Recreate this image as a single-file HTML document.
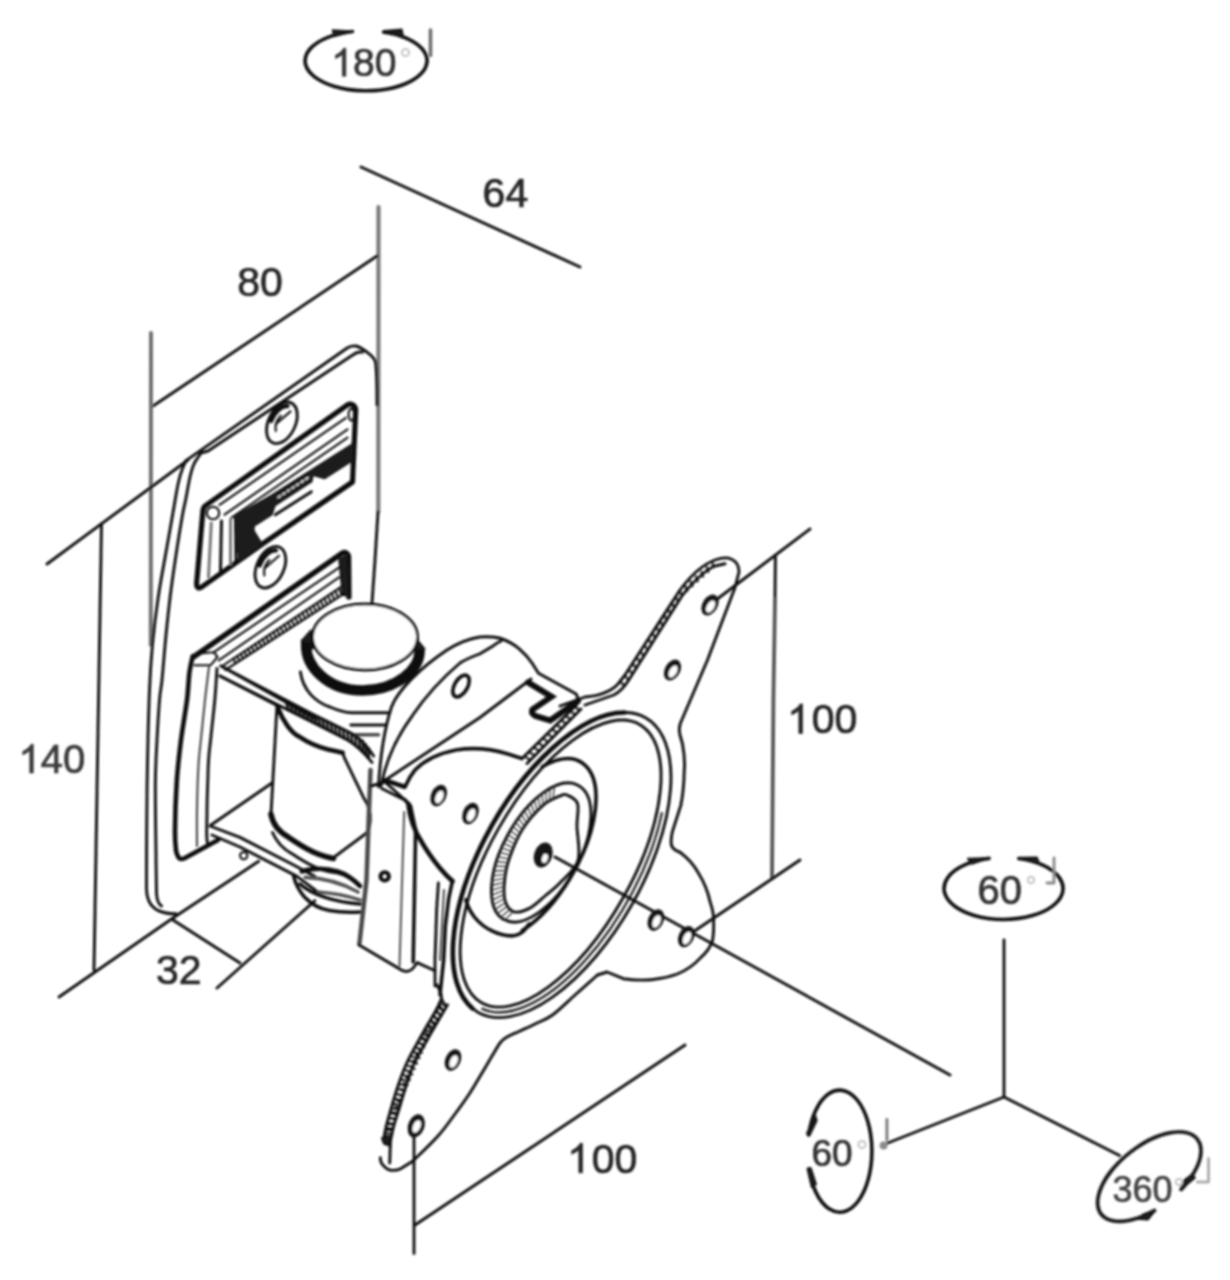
<!DOCTYPE html>
<html>
<head>
<meta charset="utf-8">
<title>Monitor wall mount - dimensions</title>
<style>
html,body{margin:0;padding:0;background:#fff;}
body{width:1230px;height:1280px;overflow:hidden;font-family:"Liberation Sans",sans-serif;}
svg{display:block;}
svg text{font-family:"Liberation Sans",sans-serif;fill:#262626;stroke:#262626;stroke-width:0.7;}
.ln{fill:none;stroke:#101010;stroke-width:2.9;stroke-linecap:round;stroke-linejoin:round;}
.th{stroke-width:4.6;}
.md{stroke-width:3.6;}
.tn{stroke-width:2.1;}
.gy{stroke:#4c4c4c;}
.bk{fill:#1a1a1a;stroke:#1a1a1a;stroke-width:1.5;stroke-linejoin:round;}
.wf{fill:#fff;}
</style>
</head>
<body>
<svg width="1230" height="1280" viewBox="0 0 1230 1280">
<defs>
<filter id="soft" x="-2%" y="-2%" width="104%" height="104%"><feGaussianBlur stdDeviation="1.1"/></filter>
</defs>
<rect width="1230" height="1280" fill="#fff"/>
<g filter="url(#soft)">

<!-- ===== DIMENSION LINES ===== -->
<g class="ln" id="dims">
<path d="M361 167 L580 267"/>
<path d="M378.5 207 L378.3 512" style="stroke:#7a7a7a;stroke-width:4.2"/>
<path d="M151.5 407 L377 256"/>
<path d="M151 333 L150.8 645" style="stroke:#707070;stroke-width:4"/>
<path d="M47 564 L188 460"/>
<path d="M101.5 524 L94 970"/>
<path d="M59 997 L173 918"/>
<path d="M173 920 L240 963"/>
<path d="M217 988 L314.8 900.8"/>
<path d="M775.4 557 L775 600" /><path d="M775 600 L773.4 700 L772 878" style="stroke:#555;stroke-width:3.8"/>
<path d="M712 603 L810 529"/>
<path d="M690 934 L800 860"/>
<path d="M555 857 L950 1075"/>
<path d="M414 1130 L414 1253.5"/>
<path d="M415 1225 L685 1045"/>
</g>

<!-- ===== TEXT ===== -->
<g id="labels" font-size="41">
<text id="t64" x="482.6" y="206.7">64</text>
<text id="t80" x="237.2" y="295.6">80</text>
<g id="t140"><path d="M763 0 L583 0 L583 1147 Q518 1085 412.5 1023 Q307 961 223 930 L223 1104 Q374 1175 487 1276 Q600 1377 647 1472 L763 1472 Z" transform="translate(18.40 773.00) scale(0.01953 -0.01953)" fill="#3a3a3a" stroke="#3a3a3a" stroke-width="35.8" stroke-linejoin="round"/><text x="40.65" y="773.0" font-size="40" style="fill:#3a3a3a;stroke:#3a3a3a">40</text></g>
<text id="t32" x="156" y="984">32</text>
<g id="t100r"><path d="M763 0 L583 0 L583 1147 Q518 1085 412.5 1023 Q307 961 223 930 L223 1104 Q374 1175 487 1276 Q600 1377 647 1472 L763 1472 Z" transform="translate(787.20 733.40) scale(0.02002 -0.02002)" fill="#262626" stroke="#262626" stroke-width="35.0" stroke-linejoin="round"/><text x="811.80" y="733.4" font-size="41">00</text></g>
<g id="t100b"><path d="M763 0 L583 0 L583 1147 Q518 1085 412.5 1023 Q307 961 223 930 L223 1104 Q374 1175 487 1276 Q600 1377 647 1472 L763 1472 Z" transform="translate(567.20 1172.80) scale(0.02002 -0.02002)" fill="#262626" stroke="#262626" stroke-width="35.0" stroke-linejoin="round"/><text x="591.80" y="1172.8" font-size="41">00</text></g>
</g>

<!-- ===== ROTATION AXES ===== -->
<g class="ln" id="axes">
<path d="M1004 940 L1004 1097 L884 1144.5"/>
<path d="M1004 1097 L1119.5 1155.5"/>
</g>


<!-- rotation indicator: 180 deg (top) -->
<g id="rot180">
<path class="ln md" d="M383.6 32 A61 30 0 1 1 352.4 31.5"/>
<path class="bk" d="M332.5 30 L353.5 31.2 L334 36.5 Z"/>
<path class="bk" d="M383.6 30.8 L401.8 29.3 L403.5 37 Z"/>
<path class="ln md" style="stroke:#6e6e6e" d="M430.5 30 L430.5 55.5"/>
<g id="t180"><path d="M763 0 L583 0 L583 1147 Q518 1085 412.5 1023 Q307 961 223 930 L223 1104 Q374 1175 487 1276 Q600 1377 647 1472 L763 1472 Z" transform="translate(331.30 76.20) scale(0.01904 -0.01904)" fill="#333" stroke="#333" stroke-width="36.8" stroke-linejoin="round"/><text x="352.99" y="76.2" font-size="39" style="fill:#333;stroke:#333">80</text></g>
<circle cx="405.5" cy="52.5" r="3.6" fill="none" stroke="#c4c4c4" stroke-width="2"/>
</g>
<!-- rotation indicator: 60 deg (top axis) -->
<g id="rot60a">
<path class="ln md" d="M1018.8 858.5 A59.5 31 0 1 1 989 858.4"/>
<path class="bk" d="M967.5 858.6 L990 857.8 L972 864 Z"/>
<path class="bk" d="M1018.8 857.5 L1037 857.2 L1040 864.5 Z"/>
<path class="ln" style="stroke:#8a8a8a" d="M1054 858 L1054 883 L1047 883"/>
<text id="t60t" x="977.6" y="903.5" font-size="40" style="fill:#333;stroke:#333">60</text>
<circle cx="1031" cy="880" r="3.2" fill="none" stroke="#c4c4c4" stroke-width="2"/>
</g>
<!-- rotation indicator: 60 deg (left axis) -->
<g id="rot60b">
<path class="ln md" d="M808.65 1135 A32.2 61 0 1 1 808.87 1168.8"/>
<path class="bk" d="M815.4 1115.5 L817 1120.5 L809.8 1135.4 L806.6 1133.7 Z"/>
<path class="bk" d="M807.3 1168.8 L811 1168 L816.3 1184.4 L811.5 1187.2 Z"/>
<path class="ln" style="stroke:#7a7a7a" d="M886.9 1119.5 L886.9 1140"/>
<circle cx="883.6" cy="1145.6" r="4" fill="#8a8a8a"/>
<text id="t60l" x="811.4" y="1165.6" font-size="37" style="fill:#333;stroke:#333">60</text>
<circle cx="862" cy="1144.5" r="3.6" fill="none" stroke="#c4c4c4" stroke-width="2"/>
</g>
<!-- rotation indicator: 360 deg (right axis) -->
<g id="rot360">
<g transform="translate(1149.3 1176.7) rotate(-38)">
<path class="ln md" d="M17.4 29.7 A61 31 0 1 0 -16.7 29.8"/>
</g>
<path class="bk" d="M1192.2 1174.2 L1195.2 1178 L1180 1190 L1183.4 1180.6 Z"/>
<path class="bk" d="M1155.6 1210.2 L1148 1219.8 L1138.5 1219.2 L1143 1214.2 Z"/>
<path class="ln" style="stroke:#adadad" d="M1208.5 1158.5 L1208.5 1182 L1197.4 1182"/>
<text id="t360" x="1112.4" y="1202" font-size="36" style="fill:#444;stroke:#444">360</text>
<circle cx="1179" cy="1182" r="3.2" fill="none" stroke="#c5c5c5" stroke-width="2"/>
</g>


<!-- ===== WALL PLATE ===== -->
<g id="plate" class="ln">
<!-- outer outline: top edge, corner, right edge -->
<path d="M186 460.6 L346.8 348.3 C350 346 353 345.5 356 346 C361 347.5 365 350.5 368.3 353.2 C372 356 374.5 358.5 375.5 362 C377 372 377 390 377 405"/><path d="M378 512 L375 560 L372 603"/>
<!-- inner top edge -->
<path d="M201 453 L208 451 L352.7 355 C356 352.5 359 351.5 362.4 352.2"/>
<!-- left edge outer -->
<path d="M186 460.6 C181 470 178 482 176 495 C171 525 166 552 161 580 C155 615 151 650 149.5 690 C147.5 740 146.5 800 146.5 888 C146.5 901 152 909 162 912 C167 913.5 172 914 176 913.7"/>
<!-- left edge inner -->
<path d="M201.0 453.0 C199.8 454.8 195.8 460.0 194.0 464.0 C192.2 468.0 191.3 471.3 190.0 477.0 C188.7 482.7 187.2 491.7 186.0 498.0 C184.8 504.3 184.2 505.5 182.5 515.0 C180.8 524.5 177.9 542.5 176.0 555.0 C174.1 567.5 172.7 576.7 171.0 590.0 C169.3 603.3 167.5 620.0 166.0 635.0 C164.5 650.0 163.1 669.2 162.0 680.0 C160.9 690.8 160.3 690.0 159.5 700.0 C158.7 710.0 157.7 726.5 157.0 740.0 C156.3 753.5 155.6 764.3 155.4 781.0 C155.2 797.7 155.6 821.3 155.8 840.0 C156.0 858.7 156.4 884.2 156.5 893.0 C156.8 900 158.5 904 161.5 906"/>
<!-- bottom edge -->
<path d="M173 918 L258.7 861.2"/>
<!-- screws -->
<g transform="translate(281.9 422.8) rotate(25)"><ellipse rx="13.5" ry="22"/><path style="stroke-width:4.2" d="M-10.5 3 A10.5 18.5 0 0 1 -2 -17.5"/><path class="tn" d="M-4 -6 C-6 0 -5 6 -2 10 M3 -14 L-5 4"/></g>
<g transform="translate(270.4 567.2) rotate(25)"><ellipse rx="13.5" ry="22"/><path style="stroke-width:4.2" d="M-10.5 3 A10.5 18.5 0 0 1 -2 -17.5"/><path class="tn" d="M-4 -6 C-6 0 -5 6 -2 10 M3 -14 L-5 4"/></g>
</g>

<!-- ===== UPPER SLOT ===== -->
<g id="slot" class="ln">
<path style="stroke-width:5.2" d="M206.4 505 L347.5 404.8 C351 403 355 405 355.7 409.7 L352.5 482 L262.2 544.2 L201 587.5 C198 589 196.4 587 196.6 583.6 L203 510 C203.5 507 204.5 506 206.4 505 Z"/>
<path class="tn" d="M219.5 504.9 L345.9 417.9"/>
<path class="tn" d="M224.5 514.7 L347.5 429.4"/>
<path class="tn" d="M231 518 L347.5 437.6"/>
<ellipse class="tn" cx="351.4" cy="414.6" rx="2.8" ry="6"/>
<circle class="tn" cx="213" cy="513" r="6.2"/>
<path style="stroke:#777;stroke-width:3" d="M211.3 523 L208.5 577 M230.5 519.6 L230.5 564"/>
<path style="stroke-width:3" d="M221.5 521 L220.5 571 M235.5 518 L236 560"/>
<path class="bk" d="M234.3 516.4 L272 495 L352.5 444 L352.5 460.6 L324.5 478.6 L313 475.3 L311.8 481.5 L275 505.5 L272 514.7 L254 526.2 L254 531 L262.2 544.2 L239.2 560.7 L236 537.7 Z"/>
<path d="M275.3 514.7 L311.4 491.7"/>
<path class="tn" style="stroke:#fff;stroke-dasharray:3 2.5;stroke-width:1.4" d="M278 497.5 L309 477"/>
</g>

<!-- ===== U BRACKET (on wall plate) ===== -->
<g id="bracket" class="ln">
<!-- top bar -->
<path style="stroke-width:5.4" d="M193.5 657 L342.4 553 C345 551.5 347.5 553 348.5 556.5 L348.9 597"/>
<path class="bk" d="M339 559.5 L347 555 L348 596 L342.4 595.3 Z"/>
<path class="tn" d="M213.9 652.2 L339 567.6"/>
<path class="tn" d="M218.8 660.3 L339 577.4"/>
<path class="tn" d="M223.7 665.2 L340.7 587.2"/>
<path class="tn" d="M225.3 670 L344 593.7"/>
<path class="tn" d="M233.8 658.5 L235.3 663.3 M237.4 656.1 L239.0 661.0 M241.1 653.7 L242.7 658.6 M244.7 651.2 L246.3 656.3 M248.3 648.8 L250.0 653.9 M251.9 646.4 L253.7 651.6 M255.6 644.0 L257.3 649.2 M259.2 641.6 L261.0 646.9 M262.8 639.2 L264.7 644.5 M266.4 636.7 L268.3 642.2 M270.0 634.3 L272.0 639.8 M273.7 631.9 L275.7 637.5 M277.3 629.5 L279.3 635.1 M280.9 627.1 L283.0 632.8 M284.5 624.7 L286.7 630.4 M288.2 622.2 L290.3 628.1 M291.8 619.8 L294.0 625.7 M295.4 617.4 L297.7 623.4 M299.0 615.0 L301.3 621.0 M302.7 612.6 L305.0 618.7 M306.3 610.2 L308.7 616.3 M309.9 607.7 L312.3 614.0 M313.5 605.3 L316.0 611.6 M317.1 602.9 L319.7 609.3 M320.8 600.5 L323.3 606.9 M324.4 598.1 L327.0 604.6 M328.0 595.7 L330.7 602.2 M331.6 593.2 L334.3 599.9 M335.3 590.8 L338.0 597.5 M338.9 588.4 L341.7 595.2"/>
<!-- corner top face -->
<path class="tn" d="M196 653.8 L213.9 652.2 L217.5 657 L210.7 665.2 L194.4 665.2"/>
<!-- left bar -->
<path class="th" d="M192.8 656.0 C192.2 658.7 190.5 664.7 189.5 672.0 C188.5 679.3 188.4 688.7 187.0 700.0 C185.6 711.3 182.7 726.5 181.0 740.0 C179.3 753.5 177.8 766.0 176.8 781.0 C175.8 796.0 175.1 818.5 175.0 830.0 C174.9 841.5 175.5 845.6 176.0 850.0 C176.5 854.4 177.7 855.4 178.0 856.5 C179.5 859.5 182 859.5 185 858 L218 840"/>
<path class="tn" style="stroke:#444" d="M209.0 666.8 C208.3 672.3 206.3 687.8 205.0 700.0 C203.7 712.2 202.0 729.2 200.9 740.0 C199.8 750.8 199.2 753.3 198.5 765.0 C197.8 776.7 197.2 796.5 197.0 810.0 C196.8 823.5 197.0 840.0 197.0 846.0"/>
<path d="M217.0 668.5 C216.6 673.8 215.9 688.1 214.8 700.0 C213.7 711.9 211.7 729.2 210.6 740.0 C209.5 750.8 209.0 750.0 208.3 765.0 C207.7 780.0 206.8 817.0 206.7 830.0 C206.6 843.0 207.4 840.8 207.5 843.0"/>

<!-- upper arm -->
<path d="M221 666 L316 719"/>
<path d="M220 676 L278 706"/>
<!-- lower arm -->
<path d="M211 825 L272 783"/>
<path d="M210 826 L240 837.4 L293.7 865 L314.8 876.4"/>
<path d="M212 835 L240 847 L297 876.4 L316.4 891"/>
<circle class="tn" cx="243.7" cy="855.6" r="3.6"/>
</g>

<!-- ===== KNOB + PIVOT CYLINDER ===== -->
<g id="knob" class="ln">
<ellipse class="wf" cx="365" cy="637" rx="52.5" ry="33"/>
<!-- cap side + thick groove ring -->
<path d="M312.5 638 L312.5 648 M417.5 638 L417.5 648"/>
<path d="M306.5 640 C303 668 330 690.6 362.5 690.6 C395 690.6 421.5 670 419.5 648" style="stroke-width:10.5;stroke-linecap:butt"/>
<path class="bk" d="M301.3 641 L311 630 L312 642 Z"/>
<path class="bk" d="M414.5 648 L417.5 640 L424.8 649 Z"/>
<!-- lower body -->
<path d="M300.4 672 C303 690 315 702 330 707 C338 710.5 345 712.5 352 712.8 L388 712.8"/>
<path d="M350.8 725 L385 725"/>
<path class="md gy" d="M354 734.8 L378.5 734.8"/>
<!-- upper arm A/B + hatch -->
<path d="M221 666 L311.8 713.7 L350.8 733 C360 738 368 747 373.6 756"/>
<path d="M220 676 L315 723.4 L347.6 740 C358 746 366 755 372 762.4"/>
<path style="stroke-width:2.6" d="M285.1 699.7 L288.8 710.4 M289.2 701.8 L292.8 712.4 M293.3 704.0 L296.8 714.3 M297.4 706.1 L300.8 716.3 M301.5 708.3 L304.8 718.3 M305.6 710.4 L308.8 720.3 M309.7 712.6 L312.8 722.3 M313.8 714.7 L316.8 724.3 M318.0 716.8 L320.7 726.3 M322.1 718.8 L324.7 728.4 M326.3 720.9 L328.7 730.4 M330.5 722.9 L332.7 732.4 M334.6 725.0 L336.7 734.4 M338.8 727.1 L340.6 736.5 M342.9 729.1 L344.6 738.5 M347.1 731.2 L348.6 740.6 M351.2 733.3 L352.3 743.0 M355.2 735.7 L356.1 745.5 M359.1 738.2 L359.8 747.9 M362.8 740.9 L362.8 751.2 M365.7 744.6 L365.8 754.5 M368.6 748.2 L368.8 757.8"/>
<!-- cylinder -->
<path class="th" d="M277.6 707 C283 722 292 733 298.8 736.4 C310 744 322 748 328 749.4 C335 751 340 752 342.7 752.7"/>
<path d="M342.7 752.7 L344.3 757.6 L363.8 798.2 C369 805 371 815 370.3 820 C370 826 368.5 830 366 833.5"/>
<path d="M276.8 708.8 L272.8 782 L270.9 816"/>
<path style="stroke-width:5.5" d="M270.9 814 C273 826 281 833 288.8 837.4 C297 843 306 848.5 313.2 852 C320 855 327 857.5 333.5 858.5"/>
<path d="M335 856.5 L366 833.5"/>
<path d="M272.5 832.5 C277 843 285 850 292 853.7 C300 859 310 865 318 868.3 C325 871 332 872.5 337.6 873 C346 875 354 880 360 886"/>
<!-- washer / nut -->
<path class="md" d="M293.7 876.4 C296 886 300 892 305 897.6 C312 905 320 909 329.4 910.6 C340 912.5 351 912.5 360 912"/>
<path class="th" d="M301.8 871.5 C312 868 326 868 337.6 871.5 C346 874 354 880 360 886"/>
<path class="md" style="stroke:#555" d="M305 877.4 C322 878 342 883 358 892"/>
<path class="md" style="stroke:#555" d="M318 892 C332 893 348 896 360 900"/>
<path class="md" d="M300 884 C312 895 335 902 360 904"/>
</g>


<!-- ===== TILT BRACKET ===== -->
<g id="tilt" class="ln">
<!-- outer arc -->
<path d="M378.5 786.8 C380 760 384 730 391.5 707 C398 690 420 668 447 650 C458 643 470 638.5 480 637 C487 636.5 494 637 499.5 638 C507 640.5 514 644.5 519 648.6 C524 653 529 658.5 532 663 L538.5 673.3 L576.2 694 L578.8 700.6"/>
<!-- inner arc -->
<path d="M381 786 C386 760 398 735 412.6 715.3 C425 697 440 680 460 663 C467 658.5 474 656 480 653.8 L493 646 C496 643.5 498.5 642 501 641"/>
<!-- flat edge -->
<path d="M385 780.3 L480 717.5 L531 679"/>
<!-- notch -->
<path style="stroke-width:6;stroke-linejoin:miter" d="M528 682.4 L551.5 696.7 L532.5 709.5 C531 713 533 715 536 716.2 L550.2 720.5 L578 701"/>
<g transform="translate(461 686) rotate(30)"><ellipse rx="6.5" ry="12" style="stroke-width:3.6"/></g>
</g>

<!-- ===== HINGE BLOCK ===== -->
<g id="hinge" class="ln">
<path style="stroke:#4a4a4a;stroke-width:4.5" d="M370.5 770 L366.5 880 L359.5 943"/>
<path d="M358.7 944.7 L402.6 970.7 C406 972 410 971 412.4 969 L417.2 962.6 L435 970.7"/>
<path class="tn" style="stroke:#555" d="M404.2 812 L399.5 966"/>
<path class="md" d="M405 800 L410.5 806 L415.6 830 L413.2 962"/>
<path d="M371 786 L385 782 L405 800"/>
<circle cx="384.7" cy="876.4" r="4.2" style="stroke-width:4"/>
<path d="M381.7 788.5 L404.5 799.8"/>
<path class="th" d="M385 780.3 L404.5 786.8"/>
</g>

<!-- ===== VESA PLATE ===== -->
<g id="vesa" class="ln">
<!-- left lobe -->
<path class="md" d="M405.5 786 C408 780 410 776 415 770 C425 760 440 753 456 750 C475 747 495 750 508 754 L522 758.5"/>
<path d="M522 758.5 L577 704.5"/>
<path d="M527 763.5 L581 709"/>
<path class="th" d="M408.3 803.8 C410 820 415 832 422 842.6 C430 856 440 870 452.6 881.3"/>
<g transform="translate(438.7 795.5) rotate(25)"><ellipse rx="7.6" ry="11.2" fill="#141414" stroke="none"/><ellipse cx="1.2" cy="1" rx="3.6" ry="6.6" fill="#fff" stroke="none"/></g>
<g transform="translate(470.5 813.5) rotate(25)"><ellipse rx="7.6" ry="11.2" fill="#141414" stroke="none"/><ellipse cx="1.2" cy="1" rx="3.6" ry="6.6" fill="#fff" stroke="none"/></g>
<!-- left edge strip -->
<path d="M438.4 883 L436.7 908.7 L435 960 L435 986"/>
<path class="md" d="M452 883 L448.7 898.4 L445.3 926 L443.6 960.3 L440 994.6"/><path class="tn gy" d="M444 890 L440 960"/>
<!-- big ring (double) -->
<path d="M624.6 712.5 A169.4 80.4 -60.4 0 0 472.5 1008.4" style="stroke-width:4.6"/>
<g transform="translate(561.9 865.1) rotate(-60.4)"><ellipse rx="169.4" ry="80.4"/></g>
<path class="tn" d="M661.9 813.0 A164.6 75.8 -60.4 0 1 482.3 1008.7"/>
<g transform="translate(560.6 863.6) rotate(-60.4)"><ellipse rx="160" ry="71.3"/></g>
<!-- boss -->
<path class="md" d="M542.2 766.7 A101.0 48.5 -60.4 0 1 522.3 930.6"/>
<path class="md" d="M465.8 899.8 C468 908 472 914 474.4 917 C480 924 486 928 491.5 930.7 C498 934 506 936 512 935.9 C517 935.5 521 933.5 524 930.7 L529 924"/>
<!-- inner double ring -->
<g transform="translate(541.2 852.5) rotate(-61)"><ellipse rx="76.7" ry="37.8"/></g>
<path d="M567.0 795.0 C569.9 796.3 575.8 798.4 577.5 803.6 C579.2 808.8 576.9 816.5 577.0 826.0 C577.1 835.5 580.8 850.9 578.0 860.3 C575.2 869.7 565.8 876.6 560.3 882.6 C554.8 888.6 550.2 891.7 545.0 896.0 C539.8 900.3 534.5 905.8 529.3 908.4 C524.1 911.0 517.9 912.9 513.9 911.8 C509.9 910.6 506.9 906.4 505.3 901.5 C503.7 896.6 503.8 889.5 504.4 882.6 C505.0 875.7 505.7 869.2 508.7 860.3 C511.7 851.4 516.8 838.5 522.5 829.3 C528.2 820.1 536.7 810.9 543.0 805.3 C549.3 799.7 556.3 797.5 560.3 795.8 C564.3 794.1 564.1 793.7 567.0 795.0 Z"/>
<path style="stroke-width:1.3;stroke:#333" d="M504.8 919.9 L514.4 910.7 M500.8 917.2 L511.1 908.5 M497.5 913.6 L508.4 905.5 M495.1 909.4 L506.4 902.0 M493.3 904.8 L505.1 898.2 M492.2 900.1 L504.3 894.3 M491.6 895.2 L503.9 890.3 M491.5 890.3 L503.7 886.3 M491.6 885.5 L503.9 882.3 M492.1 880.6 L504.3 878.3 M492.9 875.8 L504.9 874.4 M493.8 871.0 L505.6 870.5 M495.0 866.2 L506.5 866.5 M496.3 861.5 L507.6 862.7 M497.9 856.9 L508.8 858.9 M499.6 852.3 L510.1 855.1 M501.5 847.8 L511.5 851.3 M503.5 843.4 L513.1 847.6 M505.6 839.0 L514.7 844.0 M507.9 834.7 L516.5 840.4 M510.3 830.4 L518.4 836.8 M512.9 826.2 L520.3 833.4 M515.6 822.2 L522.4 829.9 M518.4 818.2 L524.6 826.6 M521.3 814.3 L526.9 823.3 M524.4 810.5 L529.3 820.1 M527.7 806.8 L531.8 816.9 M531.0 803.3 L534.4 813.9 M534.5 799.9 L537.1 810.9 M538.2 796.7 L540.0 808.1 M542.0 793.7 L543.0 805.5 M546.1 790.9 L546.1 803.0 M550.2 788.4 L549.4 800.8 M554.6 786.2 L552.9 798.8"/>
<!-- centre hole -->
<g transform="translate(543.2 855) rotate(18)"><ellipse rx="9" ry="12.8" fill="#141414" stroke="none"/><ellipse cx="2.6" cy="2.6" rx="2.8" ry="4.6" fill="#fff" stroke="none"/></g>
<!-- top arm -->
<path d="M560 706 L585 697 C598 696 610 692.5 618 684 L625 675 L680 590 C692 574 704 564 715 560 C722 557.5 728 557.5 731 559 C736 561 739 566 739 572 L735 587.5 L707.5 660 L680.5 723 C679 727 679 731 680 735 L682.5 744 C684.5 755 685 762 684.3 770 C684 783 683 795 680.8 805.4 L672.6 831 C671 837 670.8 841 671.4 845"/>
<path d="M585 705 L613.75 695 C620 692 625 686 628.75 680 L682.5 595 C695 580 705 570 715 566 L725 563.75"/>
<g transform="translate(710 605) rotate(30)"><ellipse rx="7.6" ry="11.2" fill="#141414" stroke="none"/><ellipse cx="1.2" cy="1" rx="3.6" ry="6.6" fill="#fff" stroke="none"/></g>
<g transform="translate(672.5 670) rotate(30)"><ellipse rx="7.6" ry="11.2" fill="#141414" stroke="none"/><ellipse cx="1.2" cy="1" rx="3.6" ry="6.6" fill="#fff" stroke="none"/></g>
<path class="tn" d="M620.2 681.2 L624.3 685.7 M624.6 675.5 L628.7 680.1 M628.6 669.4 L632.5 674.0 M632.5 663.4 L636.3 668.0 M636.4 657.3 L640.1 662.0 M640.4 651.3 L643.9 656.0 M644.3 645.2 L647.8 650.0 M648.2 639.1 L651.6 643.9 M652.1 633.1 L655.4 637.9 M656.0 627.0 L659.2 631.9 M660.0 621.0 L663.0 625.9 M663.9 614.9 L666.8 619.8 M667.8 608.8 L670.6 613.8 M671.7 602.8 L674.4 607.8 M675.6 596.7 L678.2 601.8 M679.6 590.7 L682.0 595.7 M684.9 585.8 L687.2 590.8 M690.3 581.1 L692.5 586.1 M695.8 576.4 L697.8 581.4 M701.3 571.7 L703.1 576.6 M706.8 567.0 L708.4 571.9 M712.3 562.3 L713.7 567.1"/>
<path class="tn" d="M441.2 997.8 L444.9 1004.3 M438.7 1003.5 L442.3 1009.7 M436.2 1009.2 L439.7 1015.0 M433.7 1014.9 L437.1 1020.4 M431.1 1020.6 L434.5 1025.7 M428.6 1026.3 L431.8 1031.1 M426.1 1032.0 L429.2 1036.4 M423.5 1037.6 L426.7 1041.8 M421.0 1043.3 L424.3 1047.2 M418.5 1049.0 L421.9 1052.7 M416.0 1054.7 L419.4 1058.1 M413.4 1060.4 L417.0 1063.6 M410.9 1066.1 L414.6 1069.0 M408.4 1071.8 L412.2 1074.4 M405.9 1077.4 L409.8 1079.9 M403.3 1083.1 L407.4 1085.3 M401.1 1088.9 L405.2 1090.9 M399.0 1094.8 L403.0 1096.4 M397.0 1100.7 L400.8 1101.9 M394.9 1106.5 L398.7 1107.5 M392.8 1112.4 L396.5 1113.0 M390.8 1118.3 L394.3 1118.5 M388.7 1124.1 L392.6 1124.2 M386.8 1130.0 L391.0 1130.0 M385.1 1136.0 L389.4 1135.7 M383.4 1142.0 L387.8 1141.4"/>
<path class="tn" d="M524.3 756.2 L530.3 760.1 M528.9 751.8 L534.8 755.6 M533.5 747.2 L539.3 751.1 M538.0 742.8 L543.8 746.5 M542.6 738.2 L548.3 742.0 M547.2 733.8 L552.8 737.4 M551.8 729.2 L557.3 732.9 M556.4 724.8 L561.8 728.3 M561.0 720.2 L566.3 723.8 M565.5 715.8 L570.8 719.3 M570.1 711.2 L575.3 714.7 M574.7 706.8 L579.8 710.2"/>
<!-- right lobe -->
<path d="M671.4 845 C672.5 849 675 850.5 679.6 852 C688 858 694 865 698.4 873 C704 882 708 892 710 901.4 C713 910 714 917 713.6 922.5 C713.8 930 713.5 936 712.4 941 C710 948 706 953 700.7 957.6 C694 965 686 970.5 677.3 974 C668 977.5 657 979.5 646.8 980 C638 980.3 630 979.8 623.4 978.7 L607 972 L597.5 975"/>
<g transform="translate(655.9 920) rotate(25)"><ellipse rx="7.6" ry="11.2" fill="#141414" stroke="none"/><ellipse cx="1.2" cy="1" rx="3.6" ry="6.6" fill="#fff" stroke="none"/></g>
<g transform="translate(686.3 936.6) rotate(25)"><ellipse rx="7.6" ry="11.2" fill="#141414" stroke="none"/><ellipse cx="1.2" cy="1" rx="3.6" ry="6.6" fill="#fff" stroke="none"/></g>
<!-- bottom arm -->
<path d="M413.0 1161.0 C417.2 1156.8 431.0 1143.8 438.0 1136.0 C445.0 1128.2 449.8 1121.0 455.0 1114.0 C460.2 1107.0 464.9 1100.6 469.4 1093.8 C473.9 1087.0 478.1 1079.5 482.0 1073.0 C485.9 1066.5 489.7 1059.8 492.8 1054.7 C495.9 1049.6 498.1 1045.2 500.6 1042.2 C503.1 1039.2 504.8 1038.4 508.0 1036.5 C511.2 1034.6 515.5 1033.1 520.0 1031.0 C524.5 1028.9 529.6 1026.7 535.0 1024.0 C540.4 1021.3 545.8 1019.8 552.5 1015.0 C559.2 1010.2 567.5 1001.7 575.0 995.0 C582.5 988.3 593.8 978.3 597.5 975.0"/>
<path d="M437.0 985.0 C437.7 987.5 443.2 992.3 441.0 1000.0 C438.8 1007.7 429.7 1020.6 424.0 1031.0 C418.3 1041.4 411.3 1053.3 407.0 1062.5 C402.7 1071.7 400.7 1078.2 398.0 1086.0 C395.3 1093.8 392.9 1102.5 391.0 1109.0 C389.1 1115.5 387.8 1119.7 386.5 1125.0 C385.2 1130.3 383.9 1138.0 383.4 1140.6"/>
<path d="M447.5 1004.7 C444.8 1009.4 436.5 1023.4 431.0 1033.0 C425.5 1042.6 418.9 1053.7 414.7 1062.5 C410.5 1071.3 408.6 1078.2 406.0 1086.0 C403.4 1093.8 401.0 1102.5 399.0 1109.0 C397.0 1115.5 395.4 1119.7 394.0 1125.0 C392.6 1130.3 391.1 1138.0 390.5 1140.6 L389.7 1163"/>
<path style="stroke-width:2" d="M439.8 1002.2 L446.3 1006.8 M437.3 1006.7 L443.8 1011.1 M434.9 1011.2 L441.3 1015.4 M432.4 1015.6 L438.8 1019.6 M430.0 1020.1 L436.3 1023.9 M427.5 1024.6 L433.8 1028.2 M425.1 1029.0 L431.3 1032.5 M422.6 1033.5 L428.9 1036.8 M420.2 1038.0 L426.5 1041.1 M417.8 1042.5 L424.1 1045.4 M415.4 1047.0 L421.7 1049.8 M413.0 1051.5 L419.3 1054.1 M410.5 1055.9 L417.0 1058.4 M408.1 1060.4 L414.6 1062.8 M406.0 1065.1 L412.9 1067.4 M404.2 1069.8 L411.2 1072.0 M402.4 1074.6 L409.5 1076.7 M400.6 1079.3 L407.7 1081.3 M398.7 1084.1 L406.0 1085.9 M397.1 1088.9 L404.6 1090.7 M395.6 1093.8 L403.1 1095.4 M394.1 1098.7 L401.7 1100.1 M392.7 1103.6 L400.3 1104.9 M391.2 1108.4 L398.8 1109.6 M389.8 1113.3 L397.3 1114.3 M388.4 1118.2 L395.9 1119.0 M387.0 1123.1 L394.4 1123.7 M385.9 1128.1 L393.2 1128.5 M384.9 1133.1 L392.1 1133.4 M383.9 1138.1 L391.0 1138.2"/>
<path class="bk" d="M381.5 1138 L389 1138 L389.5 1146 L384 1144 Z"/>
<path d="M380.3 1157.8 C380.5 1162 381.5 1164 383.4 1165.6 C386 1168.5 388.5 1170 391.3 1170.3 C395 1170.6 398 1170 400.6 1168.8 L413 1161"/>
<g transform="translate(453 1060) rotate(25)"><ellipse rx="7.6" ry="11.2" fill="#141414" stroke="none"/><ellipse cx="1.2" cy="1" rx="3.6" ry="6.6" fill="#fff" stroke="none"/></g>
<g transform="translate(416.3 1126.6) rotate(25)"><ellipse rx="7.8" ry="11.4" fill="#141414" stroke="none"/><ellipse cx="1.2" cy="1.2" rx="2.4" ry="5.2" fill="#fff" stroke="none"/></g>
</g>
<g transform="translate(416 1125) rotate(25)"><ellipse rx="7.6" ry="11.2" fill="#141414" stroke="none"/><ellipse cx="1.2" cy="1" rx="3.6" ry="6.6" fill="#fff" stroke="none"/></g>
</g>

<!--PARTS-->

</g>
</svg>
</body>
</html>
